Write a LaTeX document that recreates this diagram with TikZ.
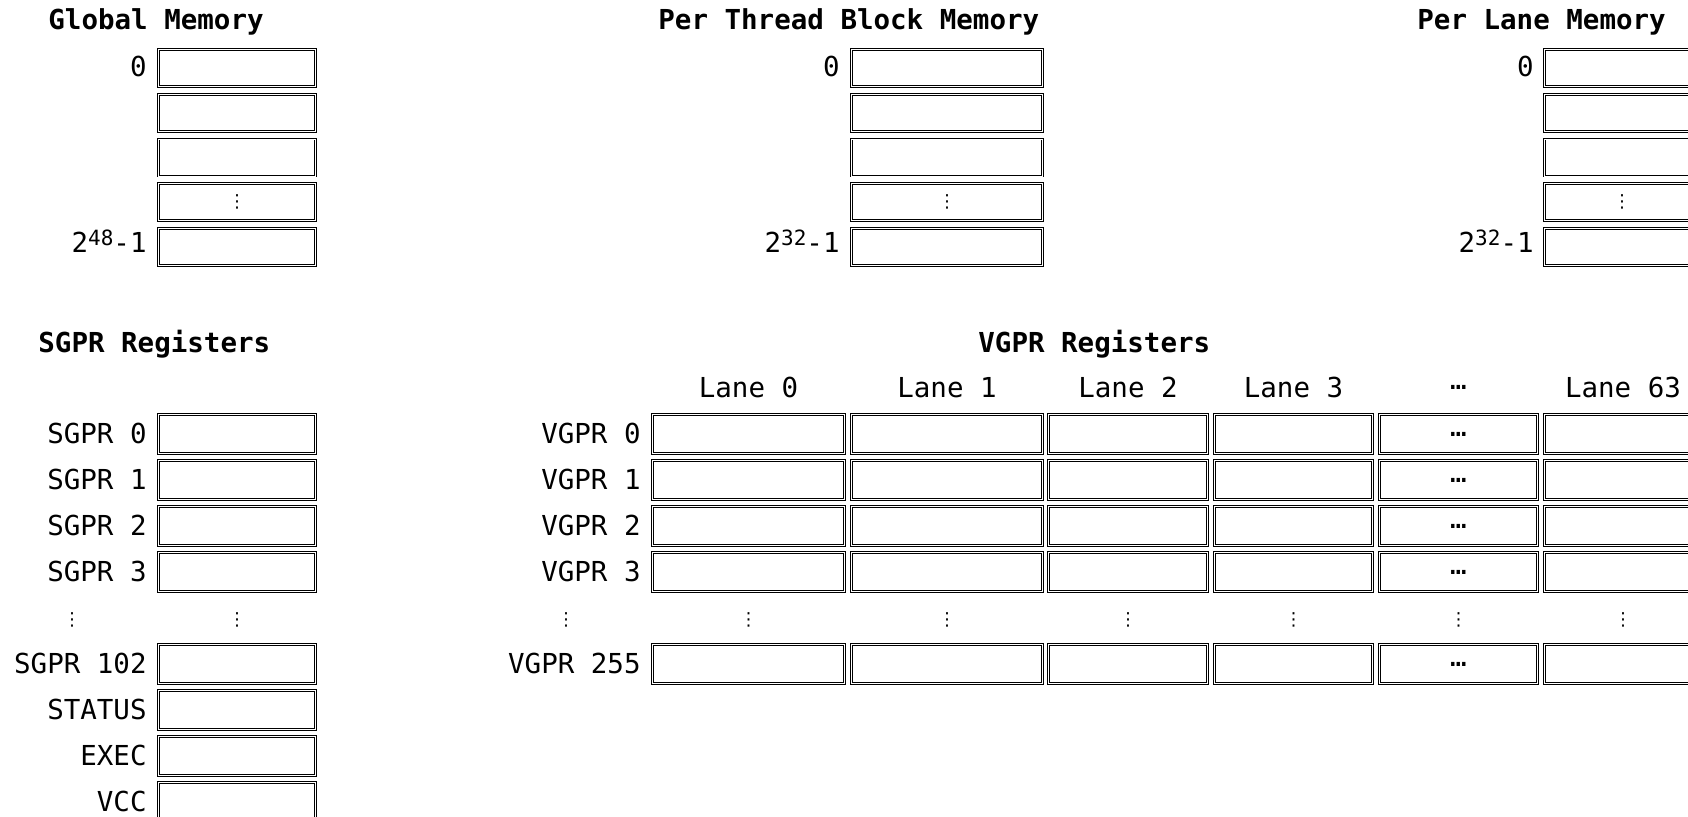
\documentclass[tikz,border=0pt]{standalone}
\usepackage{fontspec}
\setmainfont{DejaVu Sans Mono}
\newfontfamily\dvsans{DejaVu Sans}
\newcommand\mfs{\fontsize{13.75pt}{16pt}\selectfont}
\newcommand\supnum[1]{\raisebox{3.5pt}{\fontsize{10.5pt}{12pt}\selectfont #1}}
\tikzset{
  cell/.style 2 args={draw, double, line width=0.55pt, double distance=0.35pt,
    inner sep=0pt, minimum width=#1, minimum height=#2, font=\mfs},
  ttl/.style={anchor=base west, inner sep=0pt, font=\mfs\bfseries},
  lbl/.style={anchor=base east, inner sep=0pt, font=\mfs},
  hdr/.style={anchor=center, inner sep=0pt, font=\mfs},
  vd/.style={anchor=center, inner sep=0pt, font=\dvsans\fontsize{9pt}{10pt}\selectfont},
}
\begin{document}
\begin{tikzpicture}[x=0.5pt,y=-0.5pt]
\useasboundingbox (0,0) rectangle (1688,816);
\clip (0,0) rectangle (1688,816);

% titles
\node[ttl] (tg) at (48,29) {Global Memory};
\node[ttl] (tp) at (658,29) {Per Thread Block Memory};
\node[ttl] (tl) at (1417,29) {Per Lane Memory};
\node[ttl] (ts) at (38,352) {SGPR Registers};
\node[ttl] (tv) at (978,352) {VGPR Registers};

% memory columns
\foreach \nm/\cx/\w/\lx/\ex in {g/237/78.5pt/147/48, p/947/95.5pt/840/32, l/1622/77.5pt/1534/32}{
  \foreach \i in {0,...,4}
    \node[cell={\w}{18.5pt}] (\nm\i) at (\cx,{68+44.75*\i}) {};
  \node[vd] (\nm d) at (\nm3) {⋮};
  \node[lbl] (\nm la) at (\lx,76) {0};
  \node[lbl] (\nm lb) at (\lx,252) {2\supnum{\ex}-1};
}

% SGPR registers
\foreach \t/\y [count=\k] in {SGPR 0/434, SGPR 1/480, SGPR 2/526, SGPR 3/572, SGPR 102/664, STATUS/710, EXEC/756, VCC/802}{
  \node[cell={78.5pt}{19.5pt}] (s\k) at (237,\y) {};
  \node[lbl] (sl\k) at (147,\y+9) {\t};
}
\node[vd] (sd1) at (72,620) {⋮};
\node[vd] (sd2) at (237,620) {⋮};

% VGPR registers
\foreach \t/\cx [count=\c from 0] in {Lane 0/748.5, Lane 1/947, Lane 2/1128, Lane 3/1293.5, …/1458.5, Lane 63/1623}{
  \node[hdr] (h\c) at (\cx,387.5) {\t};
  \node[vd] (vd\c) at (\cx,620) {⋮};
}
\node[vd] (vdl) at (566,620) {⋮};
\foreach \r/\y in {0/434, 1/480, 2/526, 3/572, 255/664}{
  \node[lbl] (vl\r) at (641,\y+9) {VGPR \r};
  \foreach \cx/\w [count=\c from 0] in {748.5/96pt, 947/95.5pt, 1128/79.5pt, 1293.5/79pt, 1458.5/79pt, 1623/78.5pt}
    \node[cell={\w}{19.5pt}] (v\r-\c) at (\cx,\y) {};
  \node[hdr] (ve\r) at (v\r-4) {…};
}
\end{tikzpicture}
\end{document}
